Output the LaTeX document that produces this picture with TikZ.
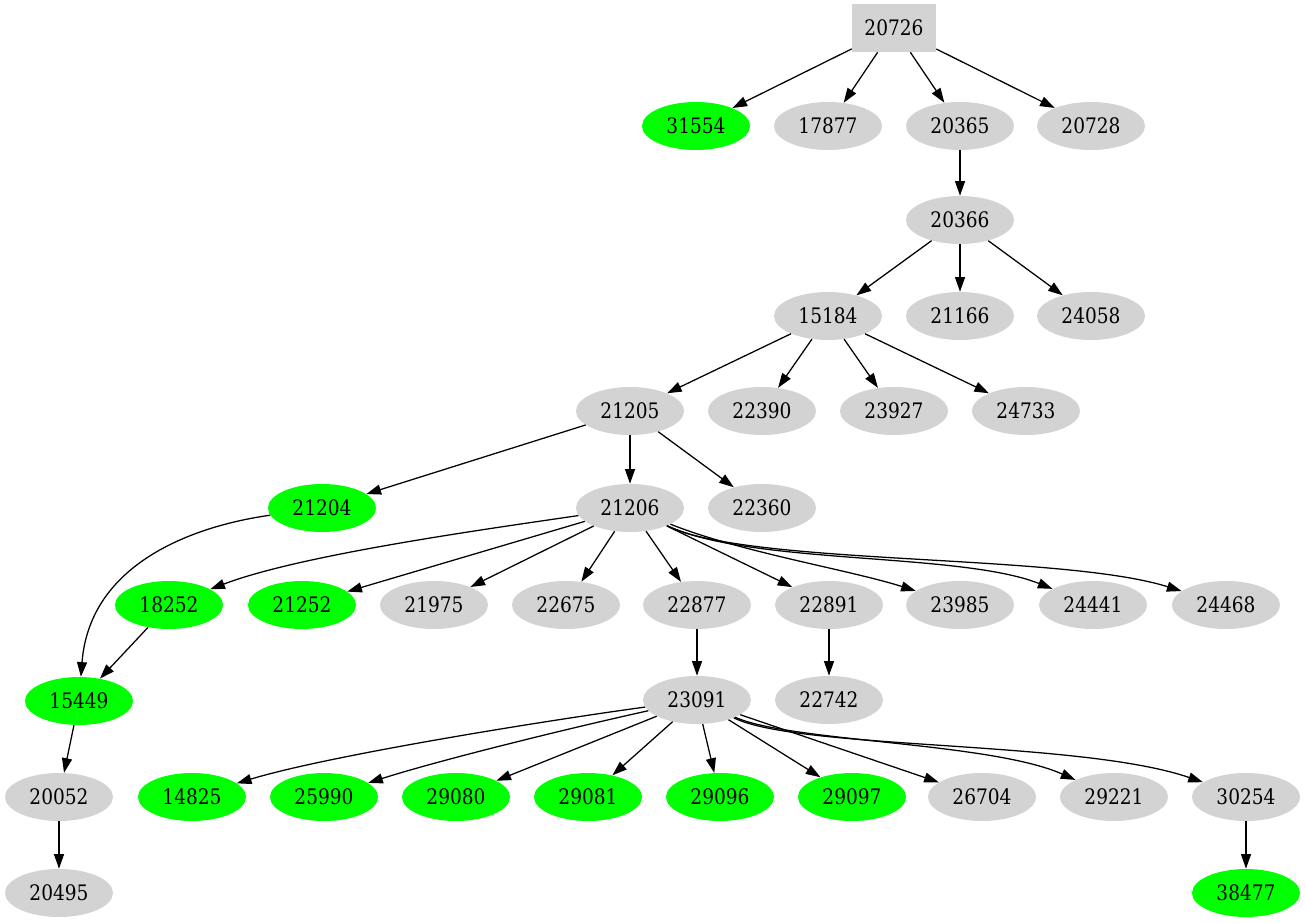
\documentclass[tikz,border=0pt]{standalone}
\usepackage{fontspec}
\setmainfont{DejaVu Serif}[FakeStretch=0.87]
\usetikzlibrary{shapes.geometric,arrows.meta}
\definecolor{gvgreen}{HTML}{00FF00}
\definecolor{gvgray}{HTML}{D3D3D3}
\begin{document}
\begin{tikzpicture}[x=0.75pt,y=-0.75pt,
  every node/.style={font=\fontsize{16}{19}\selectfont},
  gn/.style={ellipse,fill=gvgray,inner sep=0pt,minimum width=81pt,minimum height=36pt},
  hn/.style={ellipse,fill=gvgreen,inner sep=0pt,minimum width=81pt,minimum height=36pt},
  bx/.style={rectangle,fill=gvgray,inner sep=0pt,minimum width=63pt,minimum height=36pt},
  edge/.style={draw,line width=0.95pt,-{Triangle[length=11pt,width=7.5pt]}}]
\useasboundingbox (0,0) rectangle (1306,923);
% row 0
\node[bx] (n20726) at (894,28) {20726};
% row 1
\node[hn] (n31554) at (696,126) {31554};
\node[gn] (n17877) at (828,126) {17877};
\node[gn] (n20365) at (960,126) {20365};
\node[gn] (n20728) at (1091,126) {20728};
% row 2
\node[gn] (n20366) at (960,220) {20366};
% row 3
\node[gn] (n15184) at (828,316) {15184};
\node[gn] (n21166) at (960,316) {21166};
\node[gn] (n24058) at (1091,316) {24058};
% row 4
\node[gn] (n21205) at (630,411) {21205};
\node[gn] (n22390) at (762,411) {22390};
\node[gn] (n23927) at (894,411) {23927};
\node[gn] (n24733) at (1026,411) {24733};
% row 5
\node[hn] (n21204) at (322,508) {21204};
\node[gn] (n21206) at (630,508) {21206};
\node[gn] (n22360) at (762,508) {22360};
% row 6
\node[hn] (n18252) at (169,605) {18252};
\node[hn] (n21252) at (302,605) {21252};
\node[gn] (n21975) at (434,605) {21975};
\node[gn] (n22675) at (566,605) {22675};
\node[gn] (n22877) at (697,605) {22877};
\node[gn] (n22891) at (829,605) {22891};
\node[gn] (n23985) at (960,605) {23985};
\node[gn] (n24441) at (1093,605) {24441};
\node[gn] (n24468) at (1226,605) {24468};
% row 7
\node[hn] (n15449) at (79,701) {15449};
\node[gn] (n23091) at (697,700) {23091};
\node[gn] (n22742) at (829,700) {22742};
% row 8
\node[gn] (n20052) at (59,797) {20052};
\node[hn] (n14825) at (192,797) {14825};
\node[hn] (n25990) at (324,797) {25990};
\node[hn] (n29080) at (456,797) {29080};
\node[hn] (n29081) at (588,797) {29081};
\node[hn] (n29096) at (720,797) {29096};
\node[hn] (n29097) at (852,797) {29097};
\node[gn] (n26704) at (982,797) {26704};
\node[gn] (n29221) at (1114,797) {29221};
\node[gn] (n30254) at (1246,797) {30254};
% row 9
\node[gn] (n20495) at (59,893) {20495};
\node[hn] (n38477) at (1246,893) {38477};
% edges
\path[edge] (n20726) -- (n31554);
\path[edge] (n20726) -- (n17877);
\path[edge] (n20726) -- (n20365);
\path[edge] (n20726) -- (n20728);
\path[edge] (n20365) -- (n20366);
\path[edge] (n20366) -- (n15184);
\path[edge] (n20366) -- (n21166);
\path[edge] (n20366) -- (n24058);
\path[edge] (n15184) -- (n21205);
\path[edge] (n15184) -- (n22390);
\path[edge] (n15184) -- (n23927);
\path[edge] (n15184) -- (n24733);
\path[edge] (n21205) -- (n21204);
\path[edge] (n21205) -- (n21206);
\path[edge] (n21205) -- (n22360);
\path[edge] (n21204) .. controls (200,525) and (90,560) .. (n15449);
\path[edge] (n21206) .. controls (480,530) and (300,555) .. (n18252);
\path[edge] (n21206) -- (n21252);
\path[edge] (n21206) -- (n21975);
\path[edge] (n21206) -- (n22675);
\path[edge] (n21206) -- (n22877);
\path[edge] (n21206) -- (n22891);
\path[edge] (n21206) .. controls (740,552) and (850,570) .. (n23985);
\path[edge] (n21206) .. controls (750,565) and (960,552) .. (n24441);
\path[edge] (n21206) .. controls (750,566) and (1060,553) .. (n24468);
\path[edge] (n18252) -- (n15449);
\path[edge] (n15449) -- (n20052);
\path[edge] (n20052) -- (n20495);
\path[edge] (n22877) -- (n23091);
\path[edge] (n22891) -- (n22742);
\path[edge] (n23091) .. controls (550,720) and (330,755) .. (n14825);
\path[edge] (n23091) .. controls (570,728) and (440,760) .. (n25990);
\path[edge] (n23091) -- (n29080);
\path[edge] (n23091) -- (n29081);
\path[edge] (n23091) -- (n29096);
\path[edge] (n23091) -- (n29097);
\path[edge] (n23091) -- (n26704);
\path[edge] (n23091) .. controls (790,742) and (990,742) .. (n29221);
\path[edge] (n23091) .. controls (800,750) and (1080,740) .. (n30254);
\path[edge] (n30254) -- (n38477);
\end{tikzpicture}
\end{document}
